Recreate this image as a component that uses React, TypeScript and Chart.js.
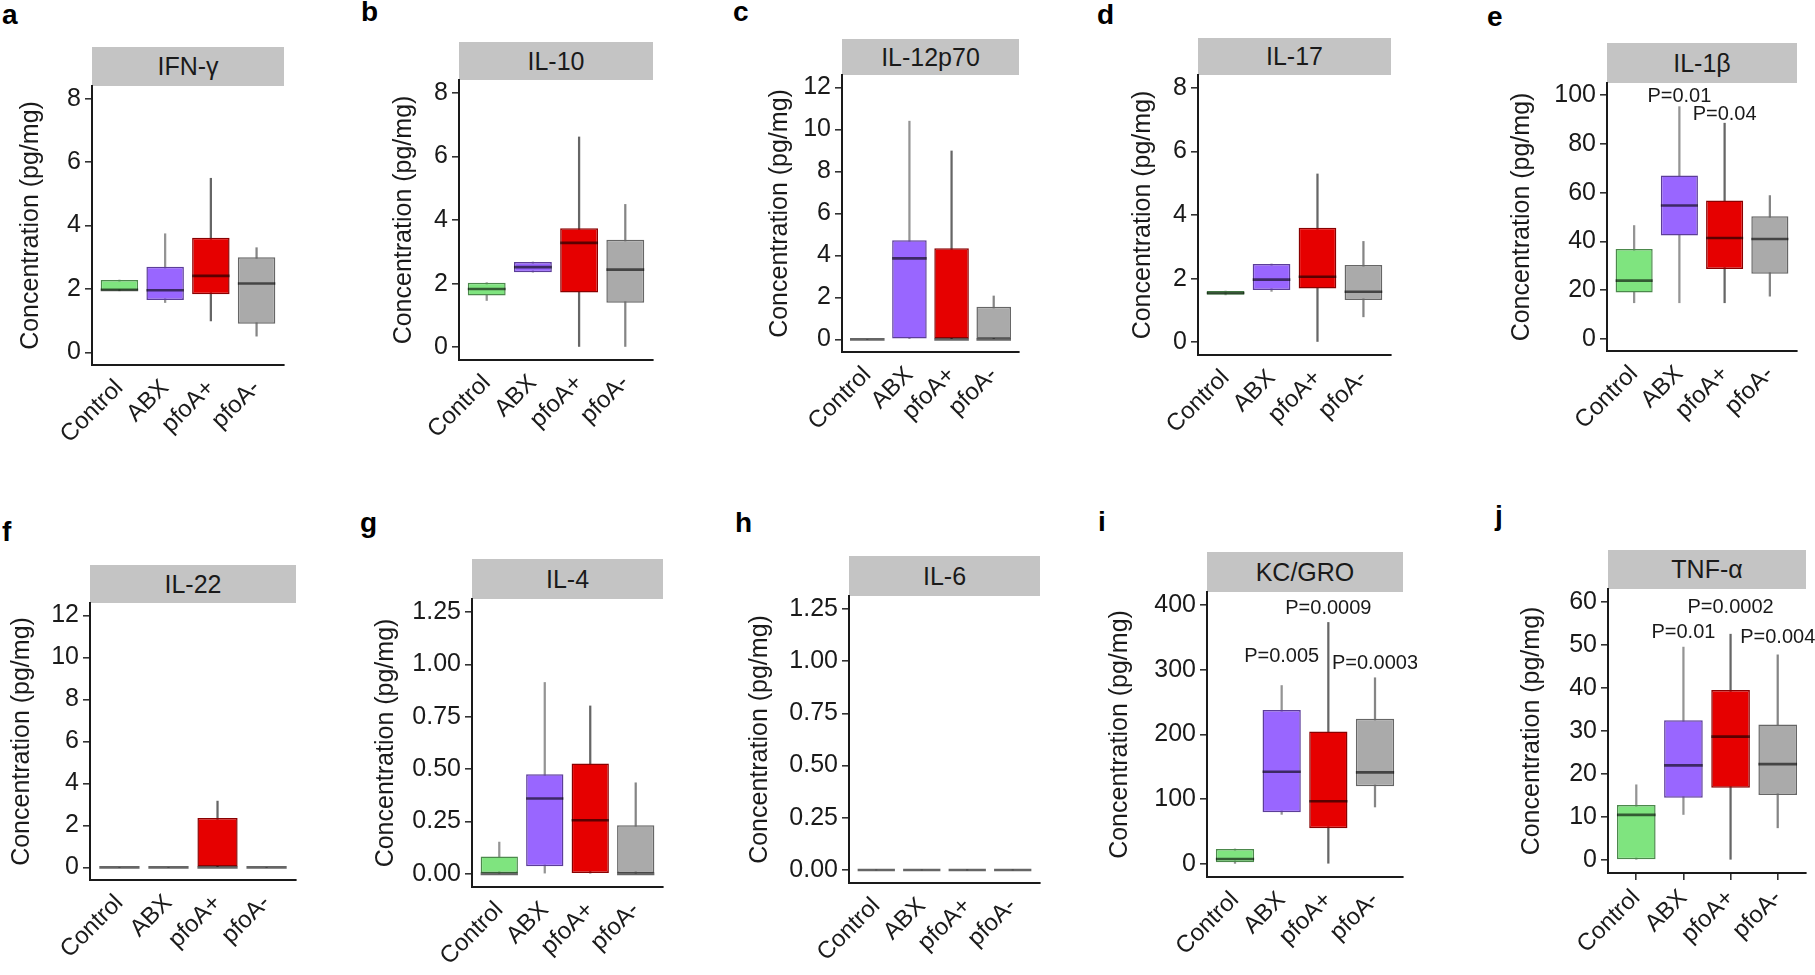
import React, { useEffect, useRef } from "react";
import { Chart, registerables } from "chart.js";

Chart.register(...registerables);

const FONT = '"Liberation Sans", Arial, Helvetica, sans-serif';
Chart.defaults.font.family = FONT;

const groups = ["Control", "ABX", "pfoA+", "pfoA-"];

// each row: [min, q1, median, q3, max] for Control, ABX, pfoA+, pfoA-
const ifnGammaStats = [
  [1.94, 1.94, 1.97, 2.28, 2.28],
  [1.57, 1.65, 1.96, 2.7, 3.74],
  [0.99, 1.83, 2.41, 3.61, 5.49],
  [0.51, 0.9, 2.17, 3.0, 3.3],
];
const il10Stats = [
  [1.47, 1.63, 1.83, 2.03, 2.03],
  [2.36, 2.36, 2.52, 2.68, 2.68],
  [0, 1.72, 3.28, 3.74, 6.61],
  [0, 1.4, 2.44, 3.38, 4.49],
];
const il12p70Stats = [
  [0, 0, 0, 0, 0],
  [0, 0, 3.86, 4.72, 10.4],
  [0, 0, 0, 4.34, 8.98],
  [0, 0, 0, 1.56, 2.07],
];
const il17Stats = [
  [1.49, 1.49, 1.55, 1.61, 1.61],
  [1.6, 1.64, 1.97, 2.46, 2.46],
  [0, 1.69, 2.06, 3.6, 5.29],
  [0.8, 1.33, 1.59, 2.43, 3.17],
];
const il1bStats = [
  [14.8, 19.0, 23.9, 36.9, 46.5],
  [14.8, 42.4, 54.7, 67.0, 95.3],
  [14.8, 28.7, 41.4, 56.8, 88.5],
  [17.5, 26.7, 41.0, 50.3, 58.8],
];
const il22Stats = [
  [0, 0, 0, 0, 0],
  [0, 0, 0, 0, 0],
  [0, 0, 0, 2.36, 3.16],
  [0, 0, 0, 0, 0],
];
const il4Stats = [
  [0, 0, 0, 0.083, 0.152],
  [0, 0.037, 0.36, 0.476, 0.914],
  [0, 0, 0.256, 0.527, 0.802],
  [0, 0, 0, 0.232, 0.435],
];
const il6Stats = [
  [0, 0, 0, 0, 0],
  [0, 0, 0, 0, 0],
  [0, 0, 0, 0, 0],
  [0, 0, 0, 0, 0],
];
const kcGroStats = [
  [1, 2.6, 7.8, 23.3, 23.3],
  [76.7, 79.8, 142.5, 238, 275.6],
  [0, 55.4, 96.9, 204.7, 373],
  [88.1, 120.2, 141.5, 224.4, 287.6],
];
const tnfStats = [
  [0, 0, 10.5, 12.8, 17.5],
  [10.6, 14.5, 22.0, 32.5, 49.5],
  [0, 16.8, 28.7, 39.5, 52.5],
  [7.5, 15.1, 22.3, 31.5, 47.7],
];

// y-axis tick values and labels
const ticksTo8 = [0, 2, 4, 6, 8];
const ticksTo8Labels = ["0", "2", "4", "6", "8"];
const ticksTo12 = [0, 2, 4, 6, 8, 10, 12];
const ticksTo12Labels = ["0", "2", "4", "6", "8", "10", "12"];
const il1bTicks = [0, 20, 40, 60, 80, 100];
const il1bTickLabels = ["0", "20", "40", "60", "80", "100"];
const smallTicks = [0, 0.25, 0.5, 0.75, 1.0, 1.25];
const smallTickLabels = ["0.00", "0.25", "0.50", "0.75", "1.00", "1.25"];
const kcGroTicks = [0, 100, 200, 300, 400];
const kcGroTickLabels = ["0", "100", "200", "300", "400"];
const tnfTicks = [0, 10, 20, 30, 40, 50, 60];
const tnfTickLabels = ["0", "10", "20", "30", "40", "50", "60"];

// P-value annotations: group, text, value
const il1bPValues = [
  { group: "ABX", text: "P=0.01", y: 99.6 },
  { group: "pfoA+", text: "P=0.04", y: 92 },
];
const kcGroPValues = [
  { group: "ABX", text: "P=0.005", y: 321 },
  { group: "pfoA+", text: "P=0.0009", y: 395 },
  { group: "pfoA-", text: "P=0.0003", y: 310 },
];
const tnfPValues = [
  { group: "ABX", text: "P=0.01", y: 52.8 },
  { group: "pfoA+", text: "P=0.0002", y: 58.8 },
  { group: "pfoA-", text: "P=0.004", y: 51.8 },
];

const fillColors = ["#7FE47F", "#9966FF", "#E60000", "#AAAAAA"];
const edgeColors = ["#4C894C", "#5C3D99", "#8A0000", "#666666"];
const whiskerColors = [
  "rgba(0,0,0,0.42)",
  "rgba(0,0,0,0.42)",
  "rgba(0,0,0,0.6)",
  "rgba(0,0,0,0.48)",
];
const MEDIAN_COLOR = "rgba(0,0,0,0.6)";
const TEXT = "#1a1a1a";

type PLabel = { group: string; text: string; y: number };
type Panel = {
  letter: string;
  title: string;
  stats: number[][];
  ticks: number[];
  tickLabels: string[];
  yMin: number;
  yMax: number;
  pLabels: PLabel[];
  L: number;
  R: number;
  T: number;
  B: number;
  stripTop: number;
  titleCx: number;
  letterX: number;
  letterBase: number;
  xTicks: boolean;
};

const panels: Panel[] = [
  { letter: "a", title: "IFN-γ", stats: ifnGammaStats, ticks: ticksTo8, tickLabels: ticksTo8Labels, yMin: -0.4, yMax: 8.4, pLabels: [], L: 92, R: 284, T: 86, B: 365, stripTop: 47, titleCx: 31, letterX: 2, letterBase: 25, xTicks: false },
  { letter: "b", title: "IL-10", stats: il10Stats, ticks: ticksTo8, tickLabels: ticksTo8Labels, yMin: -0.4, yMax: 8.4, pLabels: [], L: 459, R: 653, T: 80, B: 360, stripTop: 42, titleCx: 404, letterX: 361, letterBase: 22, xTicks: false },
  { letter: "c", title: "IL-12p70", stats: il12p70Stats, ticks: ticksTo12, tickLabels: ticksTo12Labels, yMin: -0.6, yMax: 12.6, pLabels: [], L: 842, R: 1019, T: 75, B: 352, stripTop: 39, titleCx: 780, letterX: 733, letterBase: 22, xTicks: false },
  { letter: "d", title: "IL-17", stats: il17Stats, ticks: ticksTo8, tickLabels: ticksTo8Labels, yMin: -0.4, yMax: 8.4, pLabels: [], L: 1198, R: 1391, T: 75, B: 355, stripTop: 38, titleCx: 1143, letterX: 1097, letterBase: 25, xTicks: false },
  { letter: "e", title: "IL-1β", stats: il1bStats, ticks: il1bTicks, tickLabels: il1bTickLabels, yMin: -5, yMax: 105, pLabels: il1bPValues, L: 1607, R: 1797, T: 83, B: 351, stripTop: 43, titleCx: 1522, letterX: 1487, letterBase: 27, xTicks: false },
  { letter: "f", title: "IL-22", stats: il22Stats, ticks: ticksTo12, tickLabels: ticksTo12Labels, yMin: -0.6, yMax: 12.6, pLabels: [], L: 90, R: 296, T: 603, B: 880, stripTop: 565, titleCx: 22, letterX: 2, letterBase: 542, xTicks: false },
  { letter: "g", title: "IL-4", stats: il4Stats, ticks: smallTicks, tickLabels: smallTickLabels, yMin: -0.0625, yMax: 1.3125, pLabels: [], L: 472, R: 663, T: 599, B: 887, stripTop: 559, titleCx: 386, letterX: 360, letterBase: 533, xTicks: false },
  { letter: "h", title: "IL-6", stats: il6Stats, ticks: smallTicks, tickLabels: smallTickLabels, yMin: -0.0625, yMax: 1.3125, pLabels: [], L: 849, R: 1040, T: 596, B: 883, stripTop: 556, titleCx: 760, letterX: 735, letterBase: 533, xTicks: false },
  { letter: "i", title: "KC/GRO", stats: kcGroStats, ticks: kcGroTicks, tickLabels: kcGroTickLabels, yMin: -20, yMax: 420, pLabels: kcGroPValues, L: 1207, R: 1403, T: 592, B: 877, stripTop: 552, titleCx: 1120, letterX: 1098, letterBase: 532, xTicks: false },
  { letter: "j", title: "TNF-α", stats: tnfStats, ticks: tnfTicks, tickLabels: tnfTickLabels, yMin: -3, yMax: 63, pLabels: tnfPValues, L: 1608, R: 1806, T: 589, B: 873, stripTop: 550, titleCx: 1532, letterX: 1495, letterBase: 526, xTicks: true },
];

const BOX_WIDTH = 0.82;

function makePPlugin(labels: PLabel[]) {
  return {
    id: "pValueLabels",
    afterDatasetsDraw(chart: any) {
      if (!labels.length) return;
      const { ctx, scales } = chart;
      ctx.save();
      ctx.font = `20px ${FONT}`;
      ctx.fillStyle = TEXT;
      ctx.textAlign = "center";
      ctx.textBaseline = "middle";
      labels.forEach((l) => {
        const px = scales.x.getPixelForValue(groups.indexOf(l.group) + 1);
        const py = scales.y.getPixelForValue(l.y);
        ctx.fillText(l.text, px, py);
      });
      ctx.restore();
    },
  };
}

function PanelChart({ p }: { p: Panel }) {
  const ref = useRef<HTMLCanvasElement>(null);
  const cl = Math.round(p.titleCx - 15);
  const ct = p.T - 20;
  const cr = Math.min(p.R + 14, 1815);
  const cb = Math.min(p.B + 115, 975);
  const cw = cr - cl;
  const ch = cb - ct;

  useEffect(() => {
    if (!ref.current) return;
    const yTickFont = { size: 25, family: FONT };
    const xTickFont = { size: 24, family: FONT };
    const chart = new Chart(ref.current, {
      type: "bar",
      data: {
        datasets: [
          {
            type: "bar",
            label: "whisker",
            data: p.stats.map((s, i) => ({ x: i + 1, y: [s[0], s[4]] })) as any,
            backgroundColor: whiskerColors,
            borderWidth: 0,
            barThickness: 1.6,
            grouped: false,
            order: 3,
          } as any,
          {
            type: "bar",
            label: "box",
            data: p.stats.map((s, i) => ({ x: i + 1, y: [s[1], s[3]] })) as any,
            backgroundColor: fillColors,
            borderColor: edgeColors,
            borderWidth: 1.5,
            borderSkipped: false,
            barPercentage: BOX_WIDTH,
            categoryPercentage: 1,
            grouped: false,
            order: 2,
          } as any,
          {
            type: "line",
            label: "median",
            data: p.stats.map((s, i) => ({ x: i + 1, y: s[2] })) as any,
            showLine: false,
            pointStyle: "line",
            pointRadius: (c: any) => {
              const xs = c.chart.scales.x;
              return Math.abs(xs.getPixelForValue(1 + BOX_WIDTH / 2) - xs.getPixelForValue(1));
            },
            pointBorderColor: MEDIAN_COLOR,
            pointBorderWidth: 2.6,
            pointBackgroundColor: MEDIAN_COLOR,
            order: 1,
          } as any,
        ],
      },
      options: {
        responsive: false,
        animation: false,
        events: [],
        layout: { padding: { top: 20, right: cr - p.R, left: 0, bottom: 0 } },
        plugins: { legend: { display: false }, tooltip: { enabled: false }, title: { display: false } },
        scales: {
          x: {
            type: "linear",
            min: 0.4,
            max: 4.6,
            offset: false,
            afterBuildTicks: (s: any) => {
              s.ticks = groups.map((_, i) => ({ value: i + 1 }));
            },
            afterFit: (s: any) => {
              s.height = ch - (p.B - ct);
            },
            ticks: {
              autoSkip: false,
              minRotation: 45,
              maxRotation: 45,
              padding: p.xTicks ? 4 : 9,
              font: xTickFont,
              color: TEXT,
              callback: (v: any) => groups[Math.round(Number(v)) - 1] ?? "",
            },
            grid: {
              display: p.xTicks,
              offset: false,
              drawOnChartArea: false,
              drawTicks: p.xTicks,
              tickLength: 7,
              color: "#333",
              lineWidth: 1.6,
            },
            border: { display: true, color: TEXT, width: 2 },
          },
          y: {
            type: "linear",
            min: p.yMin,
            max: p.yMax,
            afterBuildTicks: (s: any) => {
              s.ticks = p.ticks.map((v) => ({ value: v }));
            },
            afterFit: (s: any) => {
              s.width = p.L - cl;
            },
            ticks: {
              padding: 4,
              font: yTickFont,
              color: TEXT,
              callback: (v: any) => {
                const i = p.ticks.findIndex((t) => Math.abs(t - Number(v)) < 1e-9);
                return i >= 0 ? p.tickLabels[i] : "";
              },
            },
            grid: {
              display: true,
              drawOnChartArea: false,
              drawTicks: true,
              tickLength: 7,
              color: "#333",
              lineWidth: 1.6,
            },
            border: { display: true, color: TEXT, width: 2 },
            title: {
              display: true,
              text: "Concentration (pg/mg)",
              font: { size: 25, family: FONT },
              color: TEXT,
              padding: 0,
            },
          },
        },
      } as any,
      plugins: [makePPlugin(p.pLabels)],
    });
    return () => chart.destroy();
  }, []);

  return (
    <canvas
      ref={ref}
      width={cw}
      height={ch}
      style={{ position: "absolute", left: cl, top: ct, width: cw, height: ch }}
    />
  );
}

export default function App() {
  return (
    <div
      style={{
        position: "absolute",
        left: 0,
        top: 0,
        width: 1815,
        height: 975,
        overflow: "hidden",
        background: "#fff",
        fontFamily: FONT,
      }}
    >
      {panels.map((p) => (
        <React.Fragment key={p.letter}>
          <div
            style={{
              position: "absolute",
              left: p.letterX,
              top: p.letterBase - 24,
              fontSize: 28,
              lineHeight: "28px",
              fontWeight: "bold",
              color: "#000",
            }}
          >
            {p.letter}
          </div>
          <div
            style={{
              position: "absolute",
              left: p.L,
              top: p.stripTop,
              width: p.R - p.L,
              height: p.T - p.stripTop,
              background: "#C4C4C4",
              display: "flex",
              alignItems: "center",
              justifyContent: "center",
              fontSize: 25,
              color: TEXT,
            }}
          >
            {p.title}
          </div>
          <PanelChart p={p} />
        </React.Fragment>
      ))}
    </div>
  );
}
